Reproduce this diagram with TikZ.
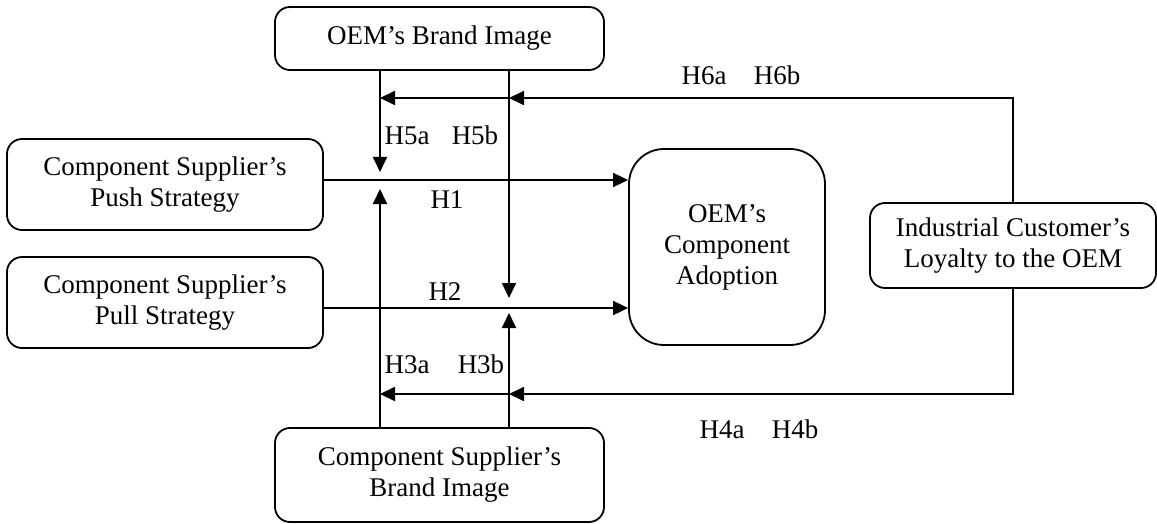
\documentclass[tikz,border=0pt]{standalone}
\usepackage{fontspec}
\setmainfont{Liberation Serif}
\usetikzlibrary{arrows.meta}
\begin{document}
\begin{tikzpicture}[x=1pt,y=-1pt,
  txt/.style={font=\fontsize{27}{31}\selectfont},
  box/.style={txt, draw, line width=1.8pt, rounded corners=15pt, align=center, inner sep=0pt},
  lbl/.style={txt, anchor=base, inner sep=0pt},
  link/.style={line width=1.8pt},
  arr/.style={link, -{Triangle[length=15pt,width=14pt]}}]
\useasboundingbox (0,0) rectangle (1157,524);

% constructs
\node[box, minimum width=316pt, minimum height=91pt] (push) at (165,184.5) {Component Supplier’s\\Push Strategy};
\node[box, minimum width=316pt, minimum height=91pt] (pull) at (165,302.5) {Component Supplier’s\\Pull Strategy};
\node[box, minimum width=329pt, minimum height=63pt] (brandOEM) at (439.5,38.5) {OEM’s Brand Image};
\node[box, minimum width=329pt, minimum height=94pt] (brandSup) at (439.5,475) {Component Supplier’s\\Brand Image};
\node[box, rounded corners=35pt, minimum width=196pt, minimum height=196pt] (adopt) at (727,247) {OEM’s\\Component\\Adoption};
\node[box, minimum width=286pt, minimum height=85pt] (loyal) at (1013,245.5) {Industrial Customer’s\\Loyalty to the OEM};

% rows of the main effects
\coordinate (h1) at (0,180);
\coordinate (h2) at (0,308);

% moderator tips and junctions
\coordinate (a5a) at (380,172);
\coordinate (a5b) at (509,298);
\coordinate (a3a) at (380,189);
\coordinate (a3b) at (509,313);
\coordinate (j6) at (509,98);
\coordinate (e6) at (380,98);
\coordinate (j4) at (509,394);
\coordinate (e4) at (380,394);

% main effects
\draw[arr] (push.east |- h1) -- (adopt.west |- h1);
\draw[arr] (pull.east |- h2) -- (adopt.west |- h2);

% brand image moderators
\draw[arr] (brandOEM.south -| a5a) -- (a5a);
\draw[arr] (brandOEM.south -| a5b) -- (a5b);
\draw[arr] (brandSup.north -| a3a) -- (a3a);
\draw[arr] (brandSup.north -| a3b) -- (a3b);

% loyalty moderators
\draw[arr] (loyal.north) |- (j6);
\draw[arr] (j6) -- (e6);
\draw[arr] (loyal.south) |- (j4);
\draw[arr] (j4) -- (e4);

% hypothesis labels
\node[lbl] (H1) at (447,208) {H1};
\node[lbl] (H2) at (445,300) {H2};
\node[lbl] (H5a) at (407,145) {H5a};
\node[lbl] (H5b) at (475,145) {H5b};
\node[lbl] (H3a) at (407,373) {H3a};
\node[lbl] (H3b) at (481,373) {H3b};
\node[lbl] (H6a) at (704,85) {H6a};
\node[lbl] (H6b) at (777,85) {H6b};
\node[lbl] (H4a) at (722,438) {H4a};
\node[lbl] (H4b) at (795,438) {H4b};
\end{tikzpicture}
\end{document}
